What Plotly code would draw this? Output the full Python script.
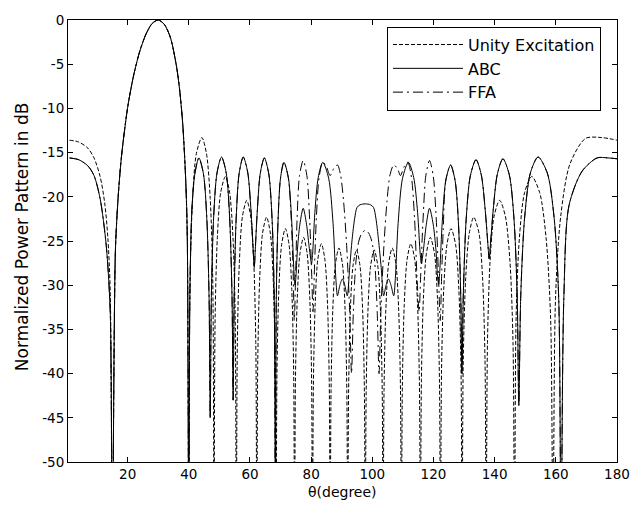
import plotly.graph_objects as go

# ---- shared main beam (all three patterns coincide here) ----
beam_theta = [16, 17, 18, 20, 22, 24, 26, 28, 30, 32, 34, 36, 37, 38, 39, 39.5, 40]
beam_db = [-26.1, -19.5, -15.4, -9.9, -6.2, -3.5, -1.6, -0.4, 0, -0.5, -2.0, -5.3, -7.9, -11.7, -18.2, -24.5, -60]

# ---- Unity Excitation ----
unity_left_theta = [1, 4, 7, 9, 11, 12.5, 13.5, 14.3, 15]
unity_left_db = [-13.6, -13.8, -14.5, -15.6, -17.7, -20.7, -24.5, -30.6, -60]
unity_side_theta = [
    40.41, 41.24, 42.47, 44.27, 45.77, 47.00, 47.83, 48.24,
    48.60, 49.33, 50.43, 51.98, 53.34, 54.44, 55.17, 55.53,
    55.87, 56.54, 57.54, 58.94, 60.22, 61.23, 61.90, 62.23,
    62.55, 63.18, 64.12, 65.42, 66.64, 67.59, 68.22, 68.53,
    68.83, 69.44, 70.35, 71.58, 72.77, 73.67, 74.28, 74.58,
    74.87, 75.46, 76.34, 77.53, 78.68, 79.56, 80.15, 80.44,
    80.73, 81.31, 82.17, 83.34, 84.49, 85.36, 85.93, 86.22,
    86.51, 87.08, 87.94, 89.08, 90.23, 91.09, 91.66, 91.95,
    92.24, 92.81, 93.68, 94.82, 95.97, 96.84, 97.41, 97.70,
    97.99, 98.57, 99.45, 100.60, 101.78, 102.66, 103.24, 103.53,
    103.83, 104.43, 105.32, 106.50, 107.72, 108.61, 109.21, 109.51,
    109.82, 110.44, 111.37, 112.58, 113.86, 114.79, 115.41, 115.72,
    116.05, 116.70, 117.69, 118.95, 120.31, 121.30, 121.95, 122.28,
    122.63, 123.34, 124.40, 125.73, 127.23, 128.29, 129.00, 129.35,
    129.74, 130.53, 131.71, 133.16, 134.87, 136.05, 136.84, 137.23,
    137.65, 138.5, 139.8, 141.63, 143.5, 145.0, 146.0, 146.51,
    147.0, 148.1, 149.8, 152.13, 154.7, 156.8, 158.3, 159.07,
    159.9, 161.6, 164.6, 169.7, 175, 180]
unity_side_db = [
    -29.4, -20.2, -15.1, -13.3, -15.1, -20.2, -29.4, -60,
    -33.8, -24.6, -19.5, -17.7, -19.5, -24.6, -33.8, -60,
    -36.5, -27.3, -22.2, -20.4, -22.2, -27.3, -36.5, -60,
    -38.4, -29.2, -24.1, -22.3, -24.1, -29.2, -38.4, -60,
    -39.7, -30.5, -25.4, -23.6, -25.4, -30.5, -39.7, -60,
    -40.7, -31.5, -26.4, -24.6, -26.4, -31.5, -40.7, -60,
    -41.4, -32.2, -27.1, -25.3, -27.1, -32.2, -41.4, -60,
    -41.9, -32.7, -27.6, -25.8, -27.6, -32.7, -41.9, -60,
    -42.1, -32.9, -27.8, -26.0, -27.8, -32.9, -42.1, -60,
    -42.1, -32.9, -27.8, -26.0, -27.8, -32.9, -42.1, -60,
    -41.9, -32.7, -27.6, -25.8, -27.6, -32.7, -41.9, -60,
    -41.4, -32.2, -27.1, -25.3, -27.1, -32.2, -41.4, -60,
    -40.7, -31.5, -26.4, -24.6, -26.4, -31.5, -40.7, -60,
    -39.7, -30.5, -25.4, -23.6, -25.4, -30.5, -39.7, -60,
    -38.4, -29.2, -24.1, -22.3, -24.1, -29.2, -38.4, -60,
    -36.5, -27.3, -22.2, -20.4, -22.2, -27.3, -36.5, -60,
    -33.8, -24.6, -19.5, -17.7, -19.5, -24.6, -33.8, -60,
    -31.5, -22.2, -16.3, -13.4, -13.3, -13.6]

# ---- ABC ----
abc_left_theta = [1, 4, 7, 9, 11, 13, 14.3, 15]
abc_left_db = [-15.6, -15.8, -16.5, -17.6, -20.2, -25.5, -33, -60]
abc_side_theta = [
    40.33, 41.0, 41.98, 43.3, 44.78, 45.89, 46.63, 47.0,
    47.37, 48.11, 49.22, 50.7, 52.22, 53.36, 54.12, 54.5,
    54.83, 55.49, 56.48, 57.8, 59.24, 60.32, 61.04, 61.4,
    61.73, 62.39, 63.38, 64.7, 66.14, 67.22, 67.94, 68.3,
    68.58, 69.14, 69.98, 71.1, 72.54, 73.62, 74.34, 74.7,
    74.97, 75.51, 76.32, 77.4, 78.48, 79.29, 79.83, 80.1,
    80.47, 81.21, 82.32, 83.8, 85.72, 87.16, 88.12, 88.6,
    89.4, 90.2, 91.0, 91.8, 92.6, 93.4, 94.2, 95.0, 96.0, 97.7,
    99.4, 100.4, 101.2, 102.0, 102.9, 103.7, 104.5, 105.3, 106.1, 107.0,
    107.48, 108.44, 109.88, 111.8, 113.52, 114.81, 115.67, 116.1,
    116.36, 116.88, 117.66, 118.7, 119.9, 120.8, 121.4, 121.7,
    122.09, 122.87, 124.04, 125.6, 127.08, 128.19, 128.93, 129.3,
    129.76, 130.68, 132.06, 133.9, 135.62, 136.91, 137.77, 138.2,
    138.65, 139.55, 140.9, 142.7, 144.78, 146.34, 147.38, 147.9,
    148.53, 149.79, 151.68, 154.2, 157.2, 159.45, 160.95, 161.7,
    162.6, 164.3, 168.6, 173.5, 177, 180]
abc_side_db = [
    -31.7, -21.5, -17.4, -15.6, -17.4, -22.5, -31.5, -45,
    -31.4, -22.4, -17.3, -15.5, -17.3, -22.4, -31.2, -43,
    -31.3, -22.4, -17.3, -15.5, -17.2, -21.5, -26.0, -28,
    -26.0, -21.6, -17.3, -15.6, -17.4, -22.5, -31.7, -60,
    -32.2, -23.0, -17.9, -16.1, -17.8, -22.6, -28.2, -30,
    -29.3, -26.0, -23.1, -21.3, -23.1, -25.5, -27.0, -27.6,
    -26.5, -21.8, -17.8, -16.1, -17.9, -23.0, -29.5, -31.2,
    -30.0, -29.3, -30.0, -31.2, -28.0, -24.8, -22.5, -21.2, -20.9, -20.8,
    -20.9, -21.2, -22.5, -24.8, -28.0, -31.2, -30.0, -29.3, -30.0, -31.2,
    -29.5, -23.0, -17.9, -16.1, -17.8, -21.8, -26.5, -27.6,
    -27.0, -25.5, -23.1, -21.3, -23.1, -26.0, -29.3, -29.9,
    -28.2, -22.8, -18.1, -16.4, -18.2, -23.2, -31.5, -40,
    -31.0, -22.6, -17.6, -15.8, -17.5, -21.5, -25.3, -27,
    -25.3, -21.4, -17.4, -15.7, -17.5, -22.6, -31.5, -43.6,
    -31.2, -22.4, -17.3, -15.5, -17.3, -22.4, -31.6, -60,
    -31.7, -21.0, -17.1, -15.6, -15.6, -15.7]

# ---- FFA ----
ffa_side_theta = [
    40.33, 41.0, 41.98, 43.3, 44.78, 45.89, 46.63, 47.0,
    47.37, 48.11, 49.22, 50.7, 52.22, 53.36, 54.12, 54.5,
    54.83, 55.49, 56.48, 57.8, 59.24, 60.32, 61.04, 61.4,
    61.73, 62.39, 63.38, 64.7, 66.14, 67.22, 67.94, 68.3,
    68.58, 69.14, 69.98, 71.1, 72.5, 73.5, 74.1, 74.5,
    74.85, 75.4, 76.2, 77.4, 78.6, 79.5, 80.2, 80.6,
    81.0, 81.7, 82.6, 83.8, 85.0, 86.2, 87.4, 88.6,
    89.6, 90.6, 91.6, 92.6, 93.2, 93.8, 94.6, 95.6, 96.6, 97.7,
    98.8, 99.8, 100.8, 101.6, 102.2, 102.8, 103.8, 104.8, 105.8, 107.0,
    108.2, 109.2, 110.4, 111.6, 112.8, 113.8, 114.6, 115.3,
    115.8, 116.6, 117.5, 118.7, 119.9, 120.9, 121.6, 122.2,
    122.7, 123.2, 124.04, 125.6, 127.08, 128.19, 128.93, 129.3,
    129.76, 130.68, 132.06, 133.9, 135.62, 136.91, 137.77, 138.2,
    138.65, 139.55, 140.9, 142.7, 144.78, 146.34, 147.38, 147.9,
    148.53, 149.79, 151.68, 154.2, 157.2, 159.45, 160.95, 161.7,
    162.6, 164.3, 168.6, 173.5, 177, 180]
ffa_side_db = [
    -31.7, -21.5, -17.4, -15.6, -17.4, -22.5, -31.5, -45,
    -31.4, -22.4, -17.3, -15.5, -17.3, -22.4, -31.2, -43,
    -31.3, -22.4, -17.3, -15.5, -17.2, -21.5, -26.0, -28,
    -26.0, -21.6, -17.3, -15.6, -17.4, -22.5, -31.7, -60,
    -32.2, -23.0, -17.9, -16.1, -17.8, -22.6, -28.5, -34,
    -30.0, -22.5, -17.6, -15.9, -17.6, -22.5, -29.0, -33,
    -29.0, -22.4, -17.8, -16.1, -16.6, -17.6, -16.8, -16.4,
    -17.5, -20.5, -25.5, -33.0, -40.0, -33.0, -27.5, -25.0, -24.1, -23.8,
    -24.1, -25.0, -27.5, -33.0, -40.0, -33.0, -25.5, -20.5, -17.5, -16.4,
    -16.8, -17.6, -16.6, -16.1, -17.8, -22.4, -29.0, -33,
    -29.0, -22.5, -17.6, -15.9, -17.6, -22.5, -28.5, -34,
    -28.5, -23.5, -18.1, -16.4, -18.2, -23.2, -31.5, -40,
    -31.0, -22.6, -17.6, -15.8, -17.5, -21.5, -25.3, -27,
    -25.3, -21.4, -17.4, -15.7, -17.5, -22.6, -31.5, -43.6,
    -31.2, -22.4, -17.3, -15.5, -17.3, -22.4, -31.6, -60,
    -31.7, -21.0, -17.1, -15.6, -15.6, -15.7]

x_ticks = [20, 40, 60, 80, 100, 120, 140, 160, 180]
x_tick_labels = ["20", "40", "60", "80", "100", "120", "140", "160", "180"]
y_ticks = [0, -5, -10, -15, -20, -25, -30, -35, -40, -45, -50]
y_tick_labels = ["0", "-5", "-10", "-15", "-20", "-25", "-30", "-35", "-40", "-45", "-50"]

unity_theta = unity_left_theta + beam_theta + unity_side_theta
unity_db = unity_left_db + beam_db + unity_side_db
abc_theta = abc_left_theta + beam_theta + abc_side_theta
abc_db = abc_left_db + beam_db + abc_side_db
ffa_theta = abc_left_theta + beam_theta + ffa_side_theta
ffa_db = abc_left_db + beam_db + ffa_side_db

FONT = "DejaVu Sans, Liberation Sans, Arial, sans-serif"

fig = go.Figure()
fig.add_trace(go.Scatter(x=ffa_theta, y=ffa_db, mode="lines", name="FFA", legendrank=3,
                         line=dict(color="black", width=1, dash="10px,4px,2px,4px", shape="spline", smoothing=0.8)))
fig.add_trace(go.Scatter(x=unity_theta, y=unity_db, mode="lines", name="Unity Excitation", legendrank=1,
                         line=dict(color="black", width=1, dash="4px,2px", shape="spline", smoothing=0.8)))
fig.add_trace(go.Scatter(x=abc_theta, y=abc_db, mode="lines", name="ABC", legendrank=2,
                         line=dict(color="black", width=1, shape="spline", smoothing=0.8)))

axis_common = dict(showline=True, mirror="ticks", linecolor="black", linewidth=1,
                   ticks="inside", ticklen=5, tickcolor="black", showgrid=False, zeroline=False,
                   tickfont=dict(family=FONT, size=13.5, color="black"))
fig.update_xaxes(range=[0.5, 180], tickvals=x_ticks, ticktext=x_tick_labels, **axis_common)
fig.update_yaxes(range=[-50, 0], tickvals=y_ticks, ticktext=y_tick_labels, **axis_common)

fig.update_layout(
    width=642, height=509, autosize=False,
    margin=dict(l=68, r=13, t=18, b=47),
    paper_bgcolor="white", plot_bgcolor="white",
    font=dict(family=FONT, color="black"),
    legend=dict(x=0.581, y=0.985, xanchor="left", yanchor="top",
                bordercolor="black", borderwidth=1, bgcolor="white",
                font=dict(family=FONT, size=16, color="black"),
                itemwidth=70, tracegroupgap=0),
    annotations=[
        dict(text="θ(degree)", xref="paper", yref="paper", x=0.5, y=-0.068,
             xanchor="center", yanchor="middle", showarrow=False,
             font=dict(family=FONT, size=14, color="black")),
        dict(text="Normalized Power Pattern in dB", xref="paper", yref="paper",
             x=-0.0838, y=0.511, xanchor="center", yanchor="middle", textangle=-90,
             showarrow=False, font=dict(family=FONT, size=17, color="black")),
    ],
)

fig.write_html("out.html", config={"displayModeBar": False, "responsive": False},
               post_script=("document.body.style.margin='0';"
                            "document.body.style.overflow='hidden';"
                            "document.documentElement.style.overflow='hidden';"))
